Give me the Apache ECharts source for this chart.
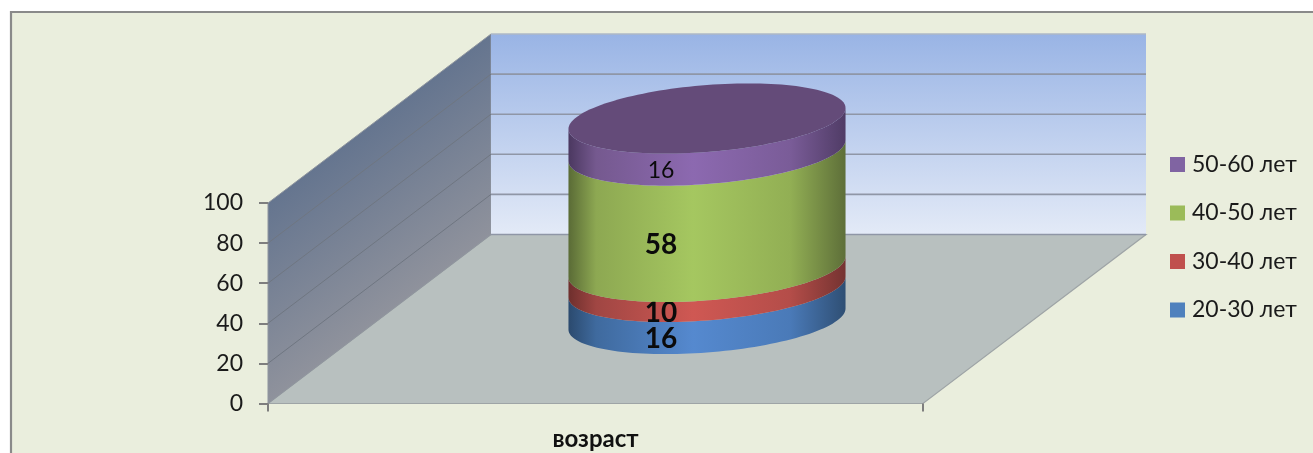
<!DOCTYPE html>
<html>
<head>
<meta charset="utf-8">
<style>html,body{margin:0;padding:0;background:#fff}#c{width:1313px;height:453px}</style>
<script src="https://cdn.jsdelivr.net/npm/echarts@6/dist/echarts.min.js"></script>
</head>
<body>
<div id="c"></div>
<script>
const categories = ['возраст'];
const seriesNames = ['20-30 лет', '30-40 лет', '40-50 лет', '50-60 лет'];
const age20to30 = [16];
const age30to40 = [10];
const age40to50 = [58];
const age50to60 = [16];
const yTicks = [0, 20, 40, 60, 80, 100];

const seriesValues = [age20to30, age30to40, age40to50, age50to60];
const legendColors = ['#4F81BD', '#C0504D', '#9BBB59', '#8064A2'];
const sideShades = [
  ['#2B4A6E', '#3F6A9E', '#5589CF', '#4A7AB8', '#2F4F74'],
  ['#6E2F2D', '#A04643', '#CF5853', '#B44D49', '#753331'],
  ['#5A6B36', '#8DA852', '#A5C760', '#92AF54', '#5E6F39'],
  ['#4B3860', '#75598F', '#8C69B0', '#7A5C98', '#503C66']
];
const capColor = '#644B79';
const FONT = 'Lato, "Open Sans", sans-serif';
const DEPTH_X = 223, DEPTH_Y = 169;
const RADIUS_RATIO = 0.2115, TILT_A = 10.5, TILT_B = 33.5, LABEL_DX = -46, LABEL_DY = 36;

function lg(x1, y1, x2, y2, stops, global) {
  return new echarts.graphic.LinearGradient(x1, y1, x2, y2, stops, !!global);
}
function renderWalls(params, api) {
  const band = api.size([1, 0])[0];
  const cx = api.coord([0, 0])[0];
  const L = cx - band / 2, R = cx + band / 2;
  const y0 = api.coord([0, 0])[1], y100 = api.coord([0, 100])[1];
  const children = [];
  children.push({ type: 'polygon', shape: { points: [[L, y0], [R, y0], [R + DEPTH_X, y0 - DEPTH_Y], [L + DEPTH_X, y0 - DEPTH_Y]] },
    style: { fill: '#B8C0BF', stroke: '#9EA4A6', lineWidth: 1.2 } });
  const nx = -0.602, ny = -0.799, dist = (y0 - y100) * 0.799;
  children.push({ type: 'polygon', shape: { points: [[L, y0], [L, y100], [L + DEPTH_X, y100 - DEPTH_Y], [L + DEPTH_X, y0 - DEPTH_Y]] },
    style: { fill: lg(L, y0, L + nx * dist, y0 + ny * dist, [{ offset: 0, color: '#8F929C' }, { offset: 1, color: '#65758F' }], true), stroke: '#8F959E', lineWidth: 1 } });
  children.push({ type: 'rect', shape: { x: L + DEPTH_X, y: y100 - DEPTH_Y, width: band, height: y0 - y100 },
    style: { fill: lg(0, 0, 0, 1, [{ offset: 0, color: '#99B4E5' }, { offset: 1, color: '#E3EAF7' }]) } });
  yTicks.forEach(function (t) {
    const y = api.coord([0, t])[1];
    if (t > 0 && t < 100) {
      children.push({ type: 'line', shape: { x1: L, y1: y, x2: L + DEPTH_X, y2: y - DEPTH_Y }, style: { stroke: '#6F7681', lineWidth: 1 } });
    }
    children.push({ type: 'line', shape: { x1: L + DEPTH_X, y1: y - DEPTH_Y, x2: R + DEPTH_X, y2: y - DEPTH_Y },
      style: { stroke: t === 100 ? '#AEB8C6' : '#8F96A6', lineWidth: 1.6 } });
  });
  return { type: 'group', children: children };
}
function ringPoint(cx, cy, a, t) {
  return [cx + a * Math.cos(t), cy - TILT_A * Math.cos(t) + TILT_B * Math.sin(t)];
}
function renderSegment(idx) {
  return function (params, api) {
    const band = api.size([1, 0])[0];
    const cx = api.coord([0, 0])[0] + DEPTH_X / 2;
    const a = band * RADIUS_RATIO;
    const v0 = api.value(1), v1 = api.value(2);
    const y0 = api.coord([0, v0])[1] - DEPTH_Y / 2, y1 = api.coord([0, v1])[1] - DEPTH_Y / 2;
    const pts = [], N = 72;
    for (let i = 0; i <= N; i++) pts.push(ringPoint(cx, y1, a, Math.PI - Math.PI * i / N));
    for (let i = 0; i <= N; i++) pts.push(ringPoint(cx, y0, a, Math.PI * i / N));
    const s = sideShades[idx];
    const children = [{ type: 'polygon', shape: { points: pts },
      style: { fill: lg(0, 0, 1, 0, [{ offset: 0, color: s[0] }, { offset: 0.1, color: s[1] }, { offset: 0.45, color: s[2] }, { offset: 0.8, color: s[3] }, { offset: 1, color: s[4] }]) } }];
    if (idx === seriesValues.length - 1) {
      const cap = [];
      for (let i = 0; i < 2 * N; i++) cap.push(ringPoint(cx, y1, a, Math.PI * i / N));
      children.push({ type: 'polygon', shape: { points: cap }, style: { fill: capColor } });
    }
    const ym = (y0 + y1) / 2 + LABEL_DY;
    const isTop = idx === seriesValues.length - 1;
    children.push({ type: 'text', z2: 100, style: { text: String(api.value(3)), x: cx + LABEL_DX, y: ym, align: 'center', verticalAlign: 'middle',
      fill: '#0b0b0b', font: (isTop ? 'normal 23px ' : 'bold 28px ') + FONT } });
    return { type: 'group', children: children };
  };
}
let running = 0;
const segSeries = seriesNames.map(function (name, i) {
  const v = seriesValues[i][0];
  const item = [0, running, running + v, v];
  running += v;
  return { type: 'custom', name: name, z: 5 + i, silent: true, clip: false, itemStyle: { color: legendColors[i] },
    data: [item], encode: { x: 0, y: 2 }, renderItem: renderSegment(i) };
});
const chart = echarts.init(document.getElementById('c'), null, { renderer: 'canvas' });
chart.setOption({
  animation: false,
  graphic: [{ type: 'rect', z: -10, shape: { x: 11, y: 12, width: 1340, height: 480 }, style: { fill: '#EAEEDD', stroke: '#8A8A8A', lineWidth: 2.2 } }],
  grid: { left: 268, right: 390, top: 203, bottom: 49.5, outerBoundsMode: 'none' },
  xAxis: { type: 'category', data: categories, boundaryGap: true, z: 3,
    axisLine: { show: false },
    axisTick: { show: true, alignWithLabel: false, length: 8, lineStyle: { color: '#7E7E7E', width: 2 } },
    axisLabel: { margin: 24, color: '#111', fontFamily: FONT, fontWeight: 'bold', fontSize: 24 } },
  yAxis: { type: 'value', min: 0, max: 100, interval: 20, z: 3,
    axisLine: { show: false }, splitLine: { show: false },
    axisTick: { show: true, length: 9, lineStyle: { color: '#7E7E7E', width: 2 } },
    axisLabel: { margin: 25, color: '#1a1a1a', fontFamily: FONT, fontSize: 23 } },
  legend: { orient: 'vertical', left: 1165, top: 147, itemWidth: 15, itemHeight: 15, itemGap: 23.5, icon: 'rect',
    data: seriesNames.slice().reverse(), selectedMode: false,
    textStyle: { color: '#1a1a1a', fontFamily: FONT, fontSize: 23, lineHeight: 25, padding: [0, 0, 0, 2] } },
  series: [{ type: 'custom', name: 'walls', z: 1, silent: true, clip: false, data: [[0, 100]], encode: { x: 0, y: 1 }, renderItem: renderWalls }].concat(segSeries)
});
</script>
</body>
</html>
